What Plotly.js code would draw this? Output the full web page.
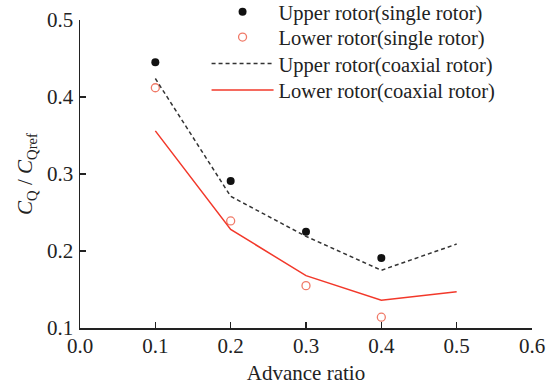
<!DOCTYPE html>
<html>
<head>
<meta charset="utf-8">
<script src="https://cdn.plot.ly/plotly-3.0.1.min.js"></script>
<style>
html,body{margin:0;padding:0;background:#fff;}
#chart{width:549px;height:388px;}
</style>
</head>
<body>
<div id="chart"></div>
<script>
const advanceRatioSingle = [0.1, 0.2, 0.3, 0.4];
const upperSingle = [0.445, 0.291, 0.225, 0.191];
const lowerSingle = [0.412, 0.239, 0.155, 0.114];
const advanceRatioCoaxial = [0.1, 0.2, 0.3, 0.4, 0.5];
const upperCoaxial = [0.424, 0.271, 0.219, 0.175, 0.209];
const lowerCoaxial = [0.356, 0.228, 0.168, 0.136, 0.147];
const seriesNames = [
  'Upper rotor(single rotor)',
  'Lower rotor(single rotor)',
  'Upper rotor(coaxial rotor)',
  'Lower rotor(coaxial rotor)'
];
const xTicks = [0.0, 0.1, 0.2, 0.3, 0.4, 0.5, 0.6];
const yTicks = [0.1, 0.2, 0.3, 0.4, 0.5];

const FONT = 'Liberation Serif';

const traces = [
  {x: advanceRatioSingle, y: upperSingle, name: seriesNames[0], mode: 'markers', type: 'scatter', legend: 'legend',
   marker: {symbol: 'circle', size: 8, color: '#111'}},
  {x: advanceRatioSingle, y: lowerSingle, name: seriesNames[1], mode: 'markers', type: 'scatter', legend: 'legend2',
   marker: {symbol: 'circle-open', size: 8, color: '#f07a68', line: {width: 1.3, color: '#f07a68'}}},
  {x: advanceRatioCoaxial, y: upperCoaxial, name: seriesNames[2], mode: 'lines', type: 'scatter', legend: 'legend3',
   line: {color: '#333', width: 1.5, dash: '4px,3px'}},
  {x: advanceRatioCoaxial, y: lowerCoaxial, name: seriesNames[3], mode: 'lines', type: 'scatter', legend: 'legend4',
   line: {color: '#f2382a', width: 1.5}}
];

function legendAt(yPaper) {
  return {x: 0.28, y: yPaper, xanchor: 'left', yanchor: 'middle', bgcolor: 'rgba(0,0,0,0)',
          borderwidth: 0, font: {family: FONT, size: 20.5, color: '#222'}, itemwidth: 62};
}

const layout = {
  width: 549, height: 388,
  margin: {l: 79.5, r: 17, t: 20, b: 60.3, pad: 0, autoexpand: false},
  paper_bgcolor: '#fff', plot_bgcolor: '#fff',
  font: {family: FONT, size: 21, color: '#222'},
  showlegend: true,
  legend: legendAt(1.026),
  legend2: legendAt(0.944),
  legend3: legendAt(0.858),
  legend4: legendAt(0.772),
  xaxis: {
    range: [0, 0.6], tickvals: xTicks, ticktext: xTicks.map(v => v.toFixed(1)),
    ticks: 'inside', ticklen: 6, tickwidth: 1.5, tickcolor: '#222',
    showline: true, linecolor: '#222', linewidth: 1.5, showgrid: false, zeroline: false,
    automargin: false, ticklabelstandoff: -2,
    tickfont: {family: FONT, size: 21, color: '#222'},
    title: {text: 'Advance ratio', font: {family: FONT, size: 21, color: '#222'}, standoff: 8}
  },
  yaxis: {
    range: [0.1, 0.5], tickvals: yTicks, ticktext: yTicks.map(v => v.toFixed(1)),
    ticks: 'inside', ticklen: 6, tickwidth: 1.5, tickcolor: '#222',
    showline: true, linecolor: '#222', linewidth: 1.5, showgrid: false, zeroline: false,
    automargin: false, ticklabelstandoff: 1,
    tickfont: {family: FONT, size: 21, color: '#222'},
    title: {text: '<i>C</i><sub>Q</sub> / <i>C</i><sub>Qref</sub>', font: {family: FONT, size: 21, color: '#222'}, standoff: 8}
  }
};

Plotly.newPlot('chart', traces, layout, {displayModeBar: false, staticPlot: true});
</script>
</body>
</html>
